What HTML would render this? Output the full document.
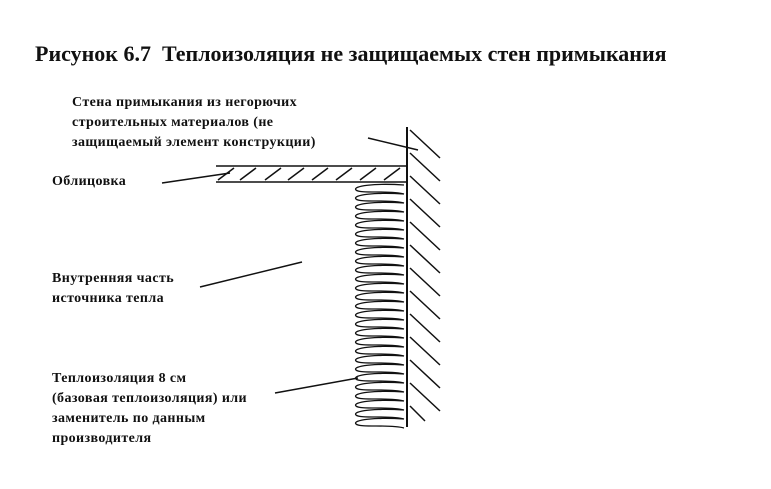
<!DOCTYPE html>
<html><head><meta charset="utf-8"><style>
body{margin:0;background:#fff;width:771px;height:489px;overflow:hidden;position:relative;font-family:"Liberation Serif",serif;font-weight:bold;color:#111}
.t{position:absolute;font-size:14px;line-height:20px;white-space:nowrap;letter-spacing:0.4px}
</style></head><body>
<div class="t" style="left:35px;top:41px;font-size:22px;line-height:26px;letter-spacing:0px">Рисунок 6.7&nbsp; Теплоизоляция не защищаемых стен примыкания</div>
<div class="t" style="left:72px;top:93px">Стена примыкания из негорючих<br>строительных материалов (не<br>защищаемый элемент конструкции)</div>
<div class="t" style="left:52px;top:172px">Облицовка</div>
<div class="t" style="left:52px;top:269px">Внутренняя часть<br>источника тепла</div>
<div class="t" style="left:52px;top:369px">Теплоизоляция 8 см<br>(базовая теплоизоляция) или<br>заменитель по данным<br>производителя</div>
<svg width="771" height="489" style="position:absolute;left:0;top:0" fill="none" stroke="#111" stroke-width="1.5">
<line x1="407" y1="127" x2="407" y2="427" stroke-width="2"/>
<path d="M410 130 L440 158 M410 153 L440 181 M410 176 L440 204 M410 199 L440 227 M410 222 L440 250 M410 245 L440 273 M410 268 L440 296 M410 291 L440 319 M410 314 L440 342 M410 337 L440 365 M410 360 L440 388 M410 383 L440 411 M410 406 L425 421"/>
<line x1="216" y1="166" x2="407" y2="166"/>
<line x1="216" y1="182" x2="407" y2="182"/>
<path d="M218 180 L234 168 M240 180 L256 168 M265 180 L281 168 M288 180 L304 168 M312 180 L328 168 M336 180 L352 168 M360 180 L376 168 M384 180 L400 168"/>
<line x1="162" y1="183" x2="230" y2="173"/>
<line x1="368" y1="138" x2="418" y2="150"/>
<line x1="200" y1="287" x2="302" y2="262"/>
<line x1="275" y1="393" x2="358" y2="378"/>
<path id="ins" d="" stroke-width="1.3"/>
<script>
(function(){var d="";for(var y=185;y<420;y+=9){d+="M404 "+y+" C375 "+(y-2)+" 352 "+(y+1)+" 356 "+(y+5)+" C360 "+(y+9)+" 390 "+(y+5)+" 404 "+(y+9)+" ";}
document.getElementById("ins").setAttribute("d",d);})();
</script>
</svg>
</body></html>
